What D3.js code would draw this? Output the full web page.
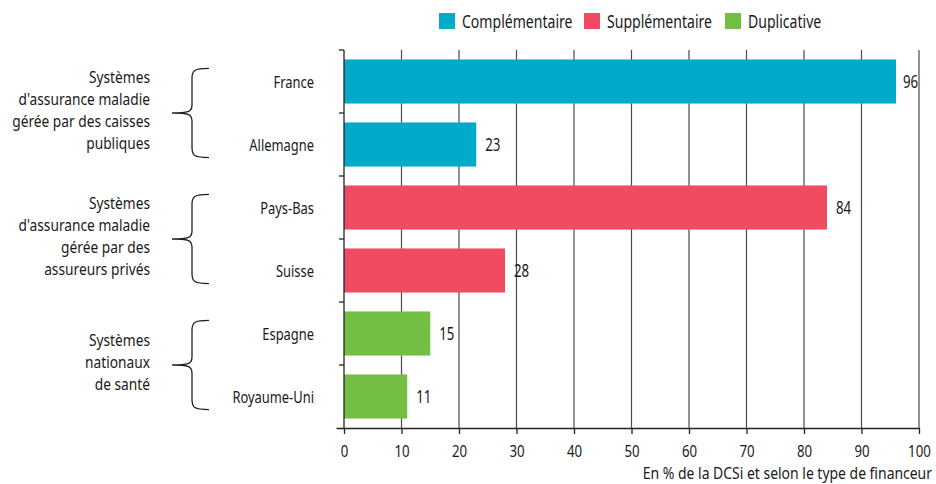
<!DOCTYPE html>
<html><head><meta charset="utf-8">
<script src="https://cdn.jsdelivr.net/npm/d3@7"></script>
<style>body{margin:0;background:#fff}svg{display:block}text{font-family:"Noto Sans",sans-serif;fill:#1a1a1a}</style>
</head><body><svg id="c" width="936" height="484"></svg>
<script>
const countries = ["France","Allemagne","Pays-Bas","Suisse","Espagne","Royaume-Uni"];
const values = [96,23,84,28,15,11];
const types = ["Complémentaire","Complémentaire","Supplémentaire","Supplémentaire","Duplicative","Duplicative"];
const seriesNames = ["Complémentaire","Supplémentaire","Duplicative"];
const seriesColors = ["#00aac8","#ef4b61","#72bf44"];
const groups = [
  {lines:["Systèmes","d'assurance maladie","gérée par des caisses","publiques"], members:["France","Allemagne"]},
  {lines:["Systèmes","d'assurance maladie","gérée par des","assureurs privés"], members:["Pays-Bas","Suisse"]},
  {lines:["Systèmes","nationaux","de santé"], members:["Espagne","Royaume-Uni"]}
];
const xTicks = [0,10,20,30,40,50,60,70,80,90,100];
const axisNote = "En % de la DCSi et selon le type de financeur";

function condense(sel, s){
  s = s || 0.76;
  sel.each(function(){
    const el = d3.select(this);
    let xx = el.attr("x");
    if(xx==null){ const ts = el.select("tspan"); xx = ts.empty()?0:ts.attr("x"); }
    xx = +xx;
    el.attr("transform",`translate(${xx},0) scale(${s},1) translate(${-xx},0)`);
  });
}

const svg = d3.select("#c");
const x = d3.scaleLinear().domain([0,100]).range([344,919]);
const y = d3.scaleBand().domain(countries).range([50,428]).paddingInner(0.3).paddingOuter(0.15);
const color = d3.scaleOrdinal().domain(seriesNames).range(seriesColors);

// gridlines
svg.append("g").selectAll("line").data(xTicks.filter(d=>d>0)).join("line")
  .attr("x1",d=>x(d)).attr("x2",d=>x(d)).attr("y1",50).attr("y2",428)
  .attr("stroke","#4a4a4a").attr("stroke-width",1.2);

// bars
svg.append("g").selectAll("rect").data(countries).join("rect")
  .attr("x",x(0)).attr("y",d=>y(d)).attr("height",y.bandwidth())
  .attr("width",(d,i)=>x(values[i])-x(0))
  .attr("fill",(d,i)=>color(types[i]));

// value labels
svg.append("g").selectAll("text").data(countries).join("text")
  .attr("x",(d,i)=>Math.min(x(values[i])+9, x(100)-16))
  .attr("y",d=>y(d)+y.bandwidth()/2).attr("dy","0.36em")
  .attr("font-size",17.5).text((d,i)=>values[i]).call(condense);

// x axis
const xa = svg.append("g").attr("transform","translate(0,428)")
  .call(d3.axisBottom(x).tickValues(xTicks).tickSize(6).tickPadding(11));
xa.select(".domain").attr("d",`M336.5,0.5H${x(100)+0.5}`);
xa.selectAll("line,path").attr("stroke","#222").attr("stroke-width",1.3);
xa.selectAll("text").attr("font-size",17).attr("font-family",null).attr("fill","#1a1a1a")
  .attr("transform",`scale(0.78,1)`);

// y axis
const step = y.step();
const bounds = [50].concat(countries.map(c=>y(c)+y.bandwidth()+ (step-y.bandwidth())/2));
const ya = svg.append("g").attr("transform",`translate(${x(0)},0)`);
ya.append("line").attr("x1",0).attr("x2",0).attr("y1",50).attr("y2",428).attr("stroke","#222").attr("stroke-width",1.3);
ya.selectAll("line.t").data(bounds.slice(0,-1)).join("line").attr("class","t")
  .attr("x1",-5).attr("x2",0).attr("y1",d=>d).attr("y2",d=>d).attr("stroke","#222").attr("stroke-width",1.3);
svg.append("g").selectAll("text").data(countries).join("text")
  .attr("x",314).attr("y",d=>y(d)+y.bandwidth()/2).attr("dy","0.36em")
  .attr("text-anchor","end").attr("font-size",17).text(d=>d).call(condense);

// groups: braces + labels
groups.forEach(g=>{
  const top = y(g.members[0])+9;
  const bot = y(g.members[g.members.length-1])+y.bandwidth()-9;
  const mid = (top+bot)/2;
  const xe = 209, xv = 192, xt = 172;
  const p = `M${xe},${top} C${xv+2},${top} ${xv},${top+2} ${xv},${top+10} L${xv},${mid-8} C${xv},${mid-1} ${xv-4},${mid} ${xt},${mid} C${xv-4},${mid} ${xv},${mid+1} ${xv},${mid+8} L${xv},${bot-10} C${xv},${bot-2} ${xv+2},${bot} ${xe},${bot}`;
  svg.append("path").attr("d",p).attr("fill","none").attr("stroke","#222").attr("stroke-width",1.3);
  const lh = 22, n = g.lines.length;
  const t = svg.append("text").attr("text-anchor","end").attr("font-size",16);
  g.lines.forEach((l,i)=>{
    t.append("tspan").attr("x",150).attr("y",mid-3+(i-(n-1)/2)*lh).attr("dy","0.36em").text(l);
  });
  t.call(condense, 0.86);
});

// legend
const lg = svg.append("g");
const lx = [439,584,725];
seriesNames.forEach((s,i)=>{
  lg.append("rect").attr("x",lx[i]).attr("y",13).attr("width",16).attr("height",16).attr("fill",color(s));
  lg.append("text").attr("x",lx[i]+23).attr("y",21).attr("dy","0.36em").attr("font-size",19).text(s).call(condense, 0.74);
});

svg.append("text").attr("x",932).attr("y",479).attr("text-anchor","end")
  .attr("font-size",15.5).text(axisNote).call(condense, 0.9);
</script></body></html>
